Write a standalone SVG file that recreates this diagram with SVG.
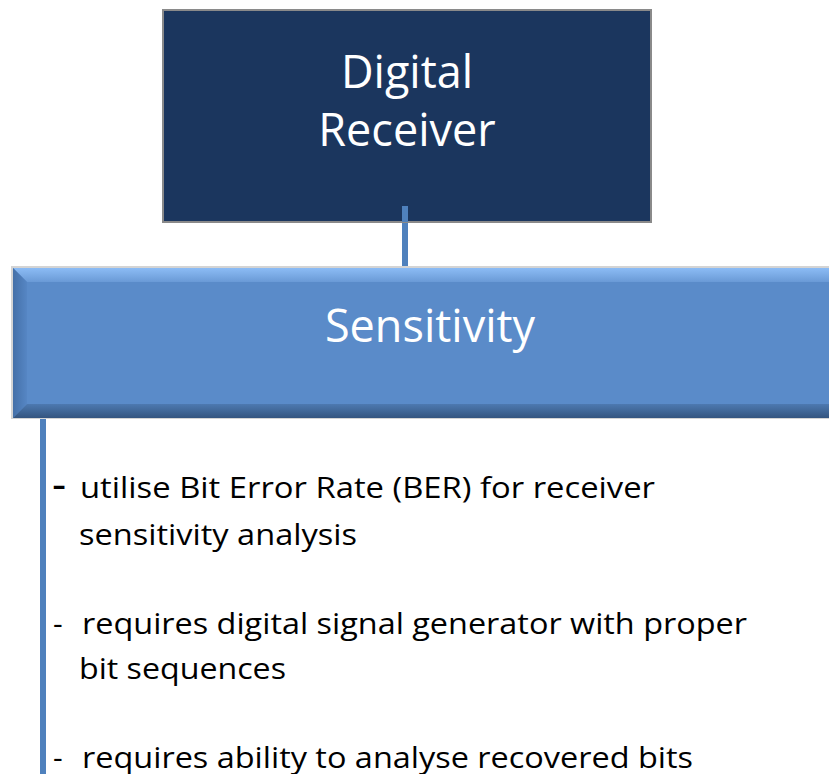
<svg xmlns="http://www.w3.org/2000/svg" width="829" height="774" viewBox="0 0 829 774">
<style>
.title{font-family:"Open Sans","Noto Sans",sans-serif;font-size:45px;fill:#ffffff;text-anchor:middle}
.body{font-family:"Open Sans","Noto Sans",sans-serif;font-size:30px;fill:#000000}
.dash1{font-size:44px}
.conn{stroke:#4f81bd;stroke-width:6;fill:none}
</style>
<defs>
<linearGradient id="topBand" x1="0" y1="0" x2="0" y2="1">
<stop offset="0" stop-color="#8cbcf5"/><stop offset="1" stop-color="#6a9ad6"/>
</linearGradient>
<linearGradient id="botBand" x1="0" y1="0" x2="0" y2="1">
<stop offset="0" stop-color="#4d79b0"/><stop offset="1" stop-color="#34557f"/>
</linearGradient>
<linearGradient id="leftBand" x1="0" y1="0" x2="1" y2="0">
<stop offset="0" stop-color="#4470a8"/><stop offset="1" stop-color="#5686c4"/>
</linearGradient>
</defs>
<rect width="829" height="774" fill="#ffffff"/>
<g id="connectors">
<line class="conn" x1="405" y1="206" x2="405" y2="266"/>
<line class="conn" x1="43" y1="419" x2="43" y2="774"/>
</g>
<g id="node-digital-receiver">
<rect x="163" y="10" width="488" height="212" fill="#1b365e" stroke="#8a8a8a" stroke-width="2"/>
<line class="conn" x1="405" y1="206" x2="405" y2="222"/>
<text class="title" x="407" y="88">Digital</text>
<text class="title" x="407" y="146">Receiver</text>
</g>
<g id="node-sensitivity">
<rect x="11" y="266" width="830" height="153" fill="#d4d4d4"/>
<rect x="13" y="268" width="830" height="150" fill="#5a8bc9"/>
<polygon points="13,268 843,268 843,282 27,282" fill="url(#topBand)"/>
<polygon points="13,268 27,282 27,404 13,418" fill="url(#leftBand)"/>
<polygon points="13,418 27,404 843,404 843,418" fill="url(#botBand)"/>
<rect x="27" y="282" width="816" height="122" fill="#5a8bc9"/>
<text class="title" x="430" y="342">Sensitivity</text>
</g>
<g id="notes">
<text class="body dash1" x="52" y="499">-</text>
<text class="body" x="80" y="498" textLength="575" lengthAdjust="spacingAndGlyphs">utilise Bit Error Rate (BER) for receiver</text>
<text class="body" x="79" y="545" textLength="278" lengthAdjust="spacingAndGlyphs">sensitivity analysis</text>
<text class="body" x="53" y="634">-</text>
<text class="body" x="82" y="634" textLength="665" lengthAdjust="spacingAndGlyphs">requires digital signal generator with proper</text>
<text class="body" x="79" y="679" textLength="207" lengthAdjust="spacingAndGlyphs">bit sequences</text>
<text class="body" x="53" y="768">-</text>
<text class="body" x="82" y="768" textLength="611" lengthAdjust="spacingAndGlyphs">requires ability to analyse recovered bits</text>
</g>
</svg>
